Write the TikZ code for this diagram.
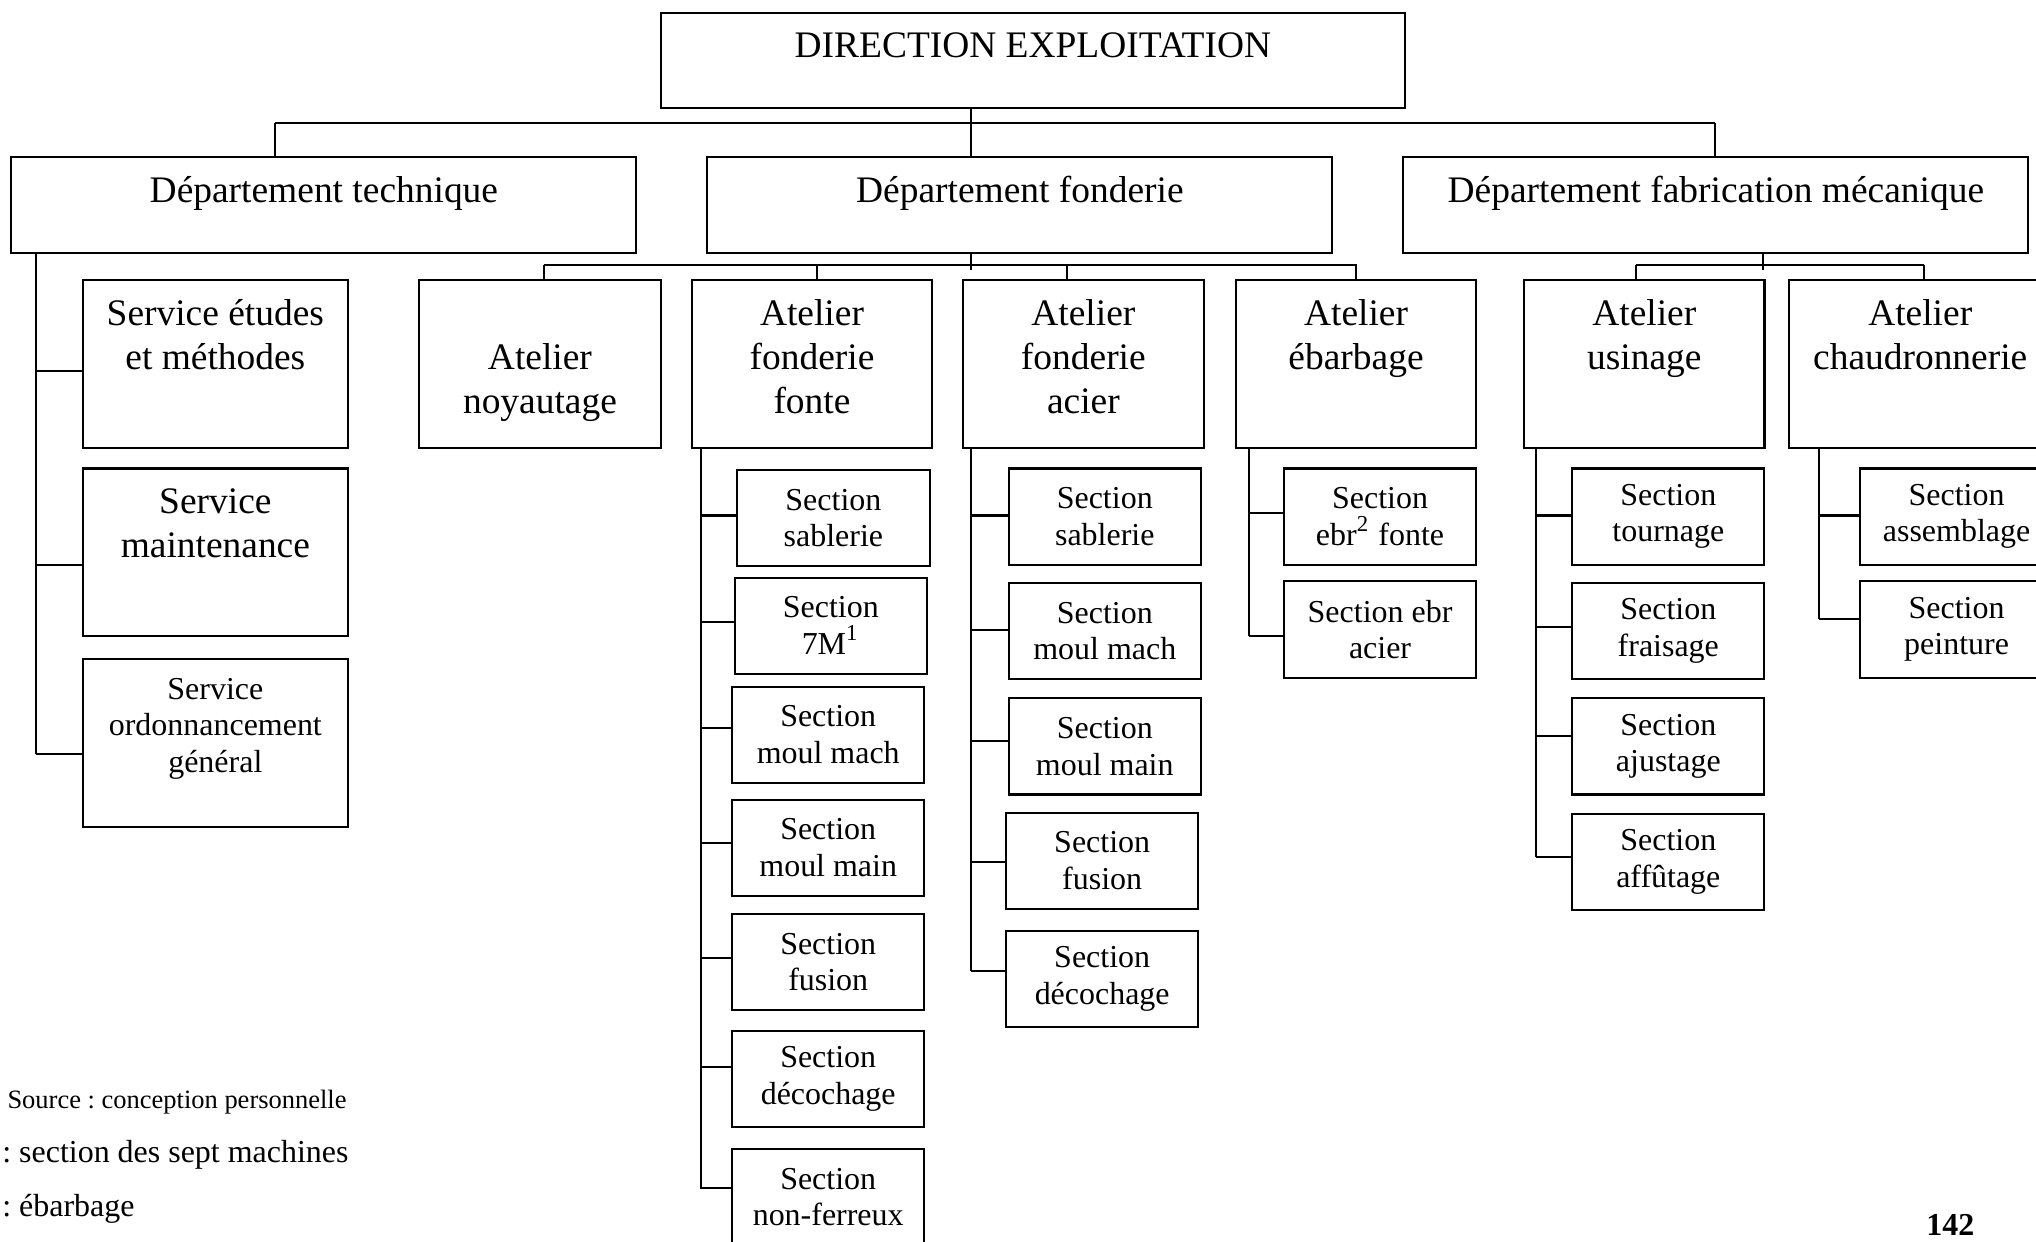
\documentclass[tikz,border=0pt]{standalone}
\usepackage{fontspec}
\setmainfont{Liberation Serif}
\frenchspacing

\newcommand{\mainf}{\fontsize{8.2}{9.7}\selectfont}
\newcommand{\secf}{\fontsize{7}{8}\selectfont}
\newcommand{\srcf}{\fontsize{5.8}{7}\selectfont}

\tikzset{
  blk/.style 2 args={draw, anchor=north west, inner sep=0pt, font=\mainf,
    execute at begin node={\begin{minipage}[t][#2][t]{#1}\centering\vspace*{3.1pt}\strut},
    execute at end node={\end{minipage}}},
  sect/.style={draw, anchor=north west, inner sep=0pt, minimum width=1.48cm,
    minimum height=0.74cm, align=center, font=\secf},
  note/.style={anchor=west, inner sep=0pt, font=\secf}
}

\begin{document}
\begin{tikzpicture}[x=0.01cm,y=-0.01cm,line width=0.45pt]
\useasboundingbox (0,0) rectangle (1568,956);
% direction and departments
\node[blk={5.73cm}{0.73cm}] (dir) at (508,9) {DIRECTION EXPLOITATION};
\node[blk={4.81cm}{0.74cm}] (dtech) at (8,120) {Département technique};
\node[blk={4.81cm}{0.74cm}] (dfond) at (544,120) {Département fonderie};
\node[blk={4.81cm}{0.74cm}] (dfab) at (1080,120) {Département fabrication mécanique};
% services
\node[blk={2.04cm}{1.29cm}] (setude) at (63,215) {Service études\\et méthodes};
\node[blk={2.04cm}{1.29cm}] (smaint) at (63,360) {Service\\maintenance};
\node[blk={2.04cm}{1.29cm},font=\secf] (sordo) at (63,507) {Service\\ordonnancement\\général};
% ateliers
\node[blk={1.86cm}{1.29cm}] (anoy) at (322,215) {\mbox{}\\Atelier\\noyautage};
\node[blk={1.85cm}{1.29cm}] (afonte) at (532,215) {Atelier\\fonderie\\fonte};
\node[blk={1.85cm}{1.29cm}] (aacier) at (741,215) {Atelier\\fonderie\\acier};
\node[blk={1.85cm}{1.29cm}] (aebar) at (951,215) {Atelier\\ébarbage};
\node[blk={1.85cm}{1.29cm}] (ausin) at (1173,215) {Atelier\\usinage};
\node[blk={2.02cm}{1.29cm}] (achaud) at (1377,215) {Atelier\\chaudronnerie};
% sections fonte
\node[sect] (f1) at (567,361) {Section\\sablerie};
\node[sect] (f2) at (565,444) {Section\\7M\textsuperscript{1}};
\node[sect] (f3) at (563,528) {Section\\moul mach};
\node[sect] (f4) at (563,615) {Section\\moul main};
\node[sect] (f5) at (563,703) {Section\\fusion};
\node[sect] (f6) at (563,793) {Section\\décochage};
\node[sect] (f7) at (563,884) {Section\\non-ferreux};
% sections acier
\node[sect] (a1) at (776,360) {Section\\sablerie};
\node[sect] (a2) at (776,448) {Section\\moul mach};
\node[sect] (a3) at (776,537) {Section\\moul main};
\node[sect] (a4) at (774,625) {Section\\fusion};
\node[sect] (a5) at (774,716) {Section\\décochage};
% sections ebarbage
\node[sect] (e1) at (988,360) {Section\\ebr\textsuperscript{2} fonte};
\node[sect] (e2) at (988,447) {Section ebr\\acier};
% sections usinage
\node[sect] (u1) at (1210,360) {Section\\tournage};
\node[sect] (u2) at (1210,448) {Section\\fraisage};
\node[sect] (u3) at (1210,537) {Section\\ajustage};
\node[sect] (u4) at (1210,626) {Section\\affûtage};
% sections chaudronnerie
\node[sect] (c1) at (1432,360) {Section\\assemblage};
\node[sect] (c2) at (1432,447) {Section\\peinture};
% notes
\node[note,font=\srcf] (src) at (5,849) {Source : conception personnelle};
\node[note] (fn1) at (1,889) {: section des sept machines};
\node[note] (fn2) at (1,931) {: ébarbage};
\node[font=\secf\bfseries] (pg) at (1502,943) {142};

% top level links
\coordinate (v0) at (748,95);
\coordinate (b0) at (212,95);
\coordinate (b1) at (1321,95);
\draw (b0) -- (b1);
\draw (dir.south -| v0) -- (dfond.north -| v0);
\draw (b0) -- (dtech.north -| b0);
\draw (b1) -- (dfab.north -| b1);
% fonderie
\draw (419,204) -- (1045,204);
\draw (dfond.south -| v0) -- ++(0,12);
\foreach \b/\px in {anoy/419,afonte/629,aacier/822,aebar/1044}
\draw (\px,204) -- (\b.north -| \px,204);
% fabrication
\draw (1260,204) -- (1482,204);
\draw (dfab.south -| 1358,0) -- ++(0,12);
\foreach \b/\px in {ausin/1260,achaud/1482}
\draw (\px,204) -- (\b.north -| \px,204);
% technique
\draw (dtech.south -| 28,0) -- (28,581);
\foreach \b/\y in {setude/286,smaint/435,sordo/581}
\draw (28,\y) -- (\b.west |- 28,\y);
% fonte
\draw (afonte.south -| 540,0) -- (540,916);
\foreach \b/\y in {f1/397,f2/479,f3/561,f4/649,f5/738,f6/822,f7/915}
\draw (540,\y) -- (\b.west |- 540,\y);
% acier
\draw (aacier.south -| 748,0) -- (748,748);
\foreach \b/\y in {a1/397,a2/485,a3/571,a4/664,a5/748}
\draw (748,\y) -- (\b.west |- 748,\y);
% ebarbage
\draw (aebar.south -| 962,0) -- (962,490);
\foreach \b/\y in {e1/395,e2/490}
\draw (962,\y) -- (\b.west |- 962,\y);
% usinage
\draw (ausin.south -| 1183,0) -- (1183,660);
\foreach \b/\y in {u1/397,u2/483,u3/567,u4/660}
\draw (1183,\y) -- (\b.west |- 1183,\y);
% chaudronnerie
\draw (achaud.south -| 1401,0) -- (1401,477);
\foreach \b/\y in {c1/397,c2/477}
\draw (1401,\y) -- (\b.west |- 1401,\y);
\end{tikzpicture}
\end{document}
